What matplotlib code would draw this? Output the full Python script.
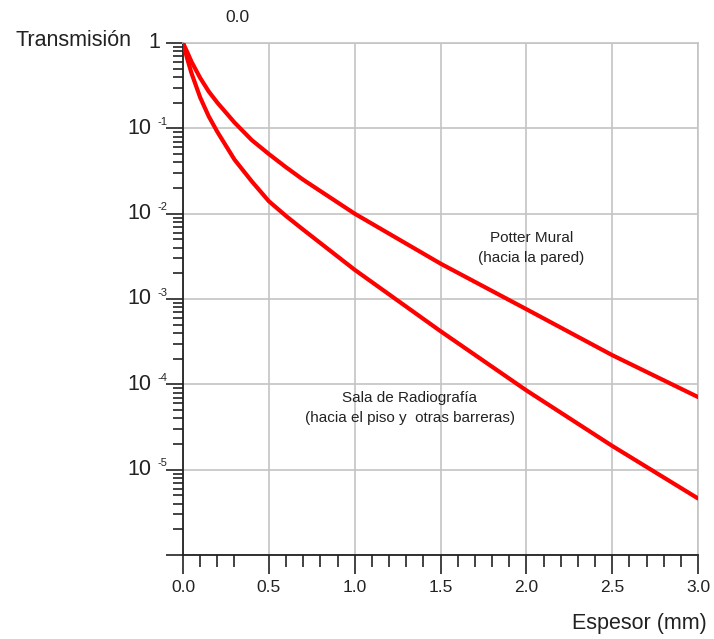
import matplotlib.pyplot as plt
from matplotlib.ticker import FixedLocator, LogLocator, NullFormatter
from matplotlib.transforms import blended_transform_factory

plt.rcParams['font.family'] = ['Liberation Sans', 'DejaVu Sans']

# Espesor (mm)
espesor = [0, 0.025, 0.05, 0.1, 0.15, 0.2, 0.3, 0.4, 0.5, 0.6, 0.7, 1.0, 1.5, 2.0, 2.5, 3.0]
# Transmision, Potter Mural (hacia la pared)
t_potter = [1, 0.78, 0.60, 0.39, 0.27, 0.20, 0.117, 0.073, 0.050, 0.035, 0.025, 0.010, 0.0026, 7.6e-4, 2.2e-4, 7.1e-5]
# Transmision, Sala de Radiografia (hacia el piso y otras barreras)
t_sala = [1, 0.65, 0.44, 0.23, 0.138, 0.091, 0.043, 0.024, 0.014, 0.0094, 0.0065, 0.0022, 4.2e-4, 8.5e-5, 1.9e-5, 4.6e-6]

x_ticks = [0.0, 0.5, 1.0, 1.5, 2.0, 2.5, 3.0]
x_labels = ['0.0', '0.5', '1.0', '1.5', '2.0', '2.5', '3.0']
y_ticks = [1, 1e-1, 1e-2, 1e-3, 1e-4, 1e-5, 1e-6]
y_exp = ['', '-1', '-2', '-3', '-4', '-5']

txt = '#222222'

fig = plt.figure(figsize=(7.14, 6.39), dpi=100)
ax = fig.add_axes([183 / 714, 1 - 555 / 639, 515 / 714, 512 / 639])

ax.plot(espesor, t_potter, color='#ff0000', lw=3, solid_capstyle='round', solid_joinstyle='round', zorder=3)
ax.plot(espesor, t_sala, color='#ff0000', lw=3, solid_capstyle='round', solid_joinstyle='round', zorder=3)

ax.set_yscale('log')
ax.set_xlim(0, 3.0)
ax.set_ylim(1e-6, 1)

ax.set_xticks(x_ticks)
ax.set_xticklabels(x_labels, fontsize=12.5, color=txt)
minor_x = [v / 10 for v in range(31) if v % 5 != 0 and v != 4]
ax.xaxis.set_minor_locator(FixedLocator(minor_x))

ax.set_yticks(y_ticks)
ax.set_yticklabels([''] * len(y_ticks))
ax.yaxis.set_minor_locator(LogLocator(base=10, subs=range(2, 10), numticks=20))
ax.yaxis.set_minor_formatter(NullFormatter())

ax.tick_params(axis='x', which='major', direction='out', length=14, width=1.2, pad=4, color=txt)
ax.tick_params(axis='x', which='minor', direction='out', length=8.5, width=1.2, color=txt)
ax.tick_params(axis='y', which='major', direction='out', length=12, width=1.2, color=txt)
ax.tick_params(axis='y', which='minor', direction='out', length=7, width=1.2, color=txt)

ax.grid(True, which='major', color='#c4c4c4', lw=1.2)
for side in ['top', 'right']:
    ax.spines[side].set_color('#c4c4c4')
    ax.spines[side].set_linewidth(1.2)
for side in ['left', 'bottom']:
    ax.spines[side].set_color(txt)
    ax.spines[side].set_linewidth(1.3)

# etiquetas del eje y: "10" con exponente pequeño
tr = blended_transform_factory(fig.transFigure, ax.transData)
ax.text(160 / 714, y_ticks[0], '1', fontsize=15.5, color=txt, ha='right', va='center', transform=tr)
for yv, e in zip(y_ticks[1:], y_exp[1:]):
    ax.text(151 / 714, yv, '10', fontsize=15.5, color=txt, ha='right', va='center', transform=tr)
    ax.text(157 / 714, yv * 10 ** (0.075), e, fontsize=8, color=txt, ha='left', va='center', transform=tr)

# textos
fig.text(15 / 714, 1 - 46 / 639, 'Transmisión', fontsize=15.5, color=txt, ha='left', va='baseline')
fig.text(237 / 714, 1 - 17 / 639, '0.0', fontsize=12.5, color=txt, ha='center', va='center')
fig.text(707 / 714, 1 - 624 / 639, 'Espesor (mm)', fontsize=15.5, color=txt, ha='right', va='center')

ax.text(2.03, 5.2e-3, 'Potter Mural', fontsize=11, color=txt, ha='center', va='center')
ax.text(2.03, 3.0e-3, '(hacia la pared)', fontsize=11, color=txt, ha='center', va='center')
ax.text(1.32, 7.0e-5, 'Sala de Radiografía', fontsize=11, color=txt, ha='center', va='center')
ax.text(1.32, 4.0e-5, '(hacia el piso y  otras barreras)', fontsize=11, color=txt, ha='center', va='center')

fig.savefig('out.png', dpi=100)
